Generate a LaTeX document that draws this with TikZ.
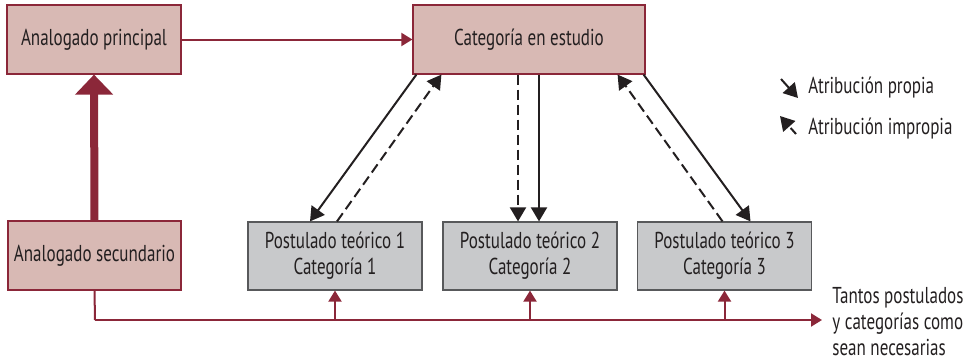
\documentclass[tikz,border=0pt]{standalone}
\usepackage{fontspec}
\setmainfont[FakeStretch=0.74]{PT Sans}
\usepackage{xcolor}
\usepackage{tikz}
\usetikzlibrary{arrows.meta}
\definecolor{analog_fill}{HTML}{D8B9B4}
\definecolor{analog_red}{HTML}{8B2739}
\definecolor{post_fill}{HTML}{C8C9CB}
\definecolor{post_edge}{HTML}{58595B}
\definecolor{text_dark}{HTML}{231F20}

\begin{document}
\begin{tikzpicture}[
            x=0.5pt,
            y=-0.5pt,
            line join=miter,
            font=\fontsize{11.5}{13}\selectfont,
            text=text_dark,
            analogbox/.style={draw=analog_red, line width=0.6pt, fill=analog_fill, minimum height=34.5pt, inner sep=0pt},
            postbox/.style={draw=post_edge, line width=0.6pt, fill=post_fill, minimum width=87pt, minimum height=34pt, align=center, inner sep=0pt},
            redarrow/.style={analog_red, line width=1pt, -{Triangle[length=5.5pt, width=6.5pt]}},
            bigarrow/.style={analog_red, line width=4pt, -{Triangle[length=10pt, width=18.5pt]}},
            propia/.style={text_dark, line width=1pt, -{Triangle[length=7pt, width=8pt]}},
            impropia/.style={text_dark, line width=1pt, dash pattern=on 5pt off 2.5pt, -{Triangle[length=7pt, width=8pt]}}
        ]
            \useasboundingbox (0,0) rectangle (970,364);

            % Draw analogados and category
            \node[analogbox, minimum width=87pt] (principal) at (94,39.5) {Analogado principal};
            \node[analogbox, minimum width=116pt] (categoria) at (529,39.5) {Categoría en estudio};
            \node[analogbox, minimum width=86.5pt] (secundario) at (94.5,255.5) {Analogado secundario};

            % Draw postulados
            \node[postbox] (post1) at (335,256) {Postulado teórico 1\\Categoría 1};
            \node[postbox] (post2) at (530,256) {Postulado teórico 2\\Categoría 2};
            \node[postbox] (post3) at (724.5,256) {Postulado teórico 3\\Categoría 3};

            % Red connectors
            \draw[bigarrow] (secundario.north) -- (principal.south);
            \draw[redarrow] (principal.east) -- (categoria.west);
            \coordinate (corner) at (95,320);
            \coordinate (fin) at (822,320);
            \draw[analog_red, line width=1pt] (secundario.south) -- (corner);
            \draw[redarrow] (corner) -- (fin);
            \foreach \p in {post1,post2,post3}
                \draw[redarrow] (\p.south |- corner) -- (\p.south);

            % Attribution arrows between category and postulados
            \draw[propia] ([xshift=2pt]categoria.south west) -- ([xshift=-12.5pt]post1.north);
            \draw[impropia] ([xshift=1pt]post1.north) -- ([xshift=14.5pt]categoria.south west);
            \draw[impropia] ([xshift=-5.5pt]categoria.south) -- ([xshift=-5.5pt]categoria.south |- post2.north);
            \draw[propia] ([xshift=5pt]categoria.south) -- ([xshift=5pt]categoria.south |- post2.north);
            \draw[impropia] ([xshift=-1pt]post3.north) -- ([xshift=-14pt]categoria.south east);
            \draw[propia] ([xshift=-1pt]categoria.south east) -- ([xshift=13pt]post3.north);

            % Legend (placed at the top-right)
            \coordinate (legA) at (781,79);
            \coordinate (legB) at (798,98);
            \coordinate (legC) at (796,134);
            \coordinate (legD) at (780,116);
            \draw[propia] (legA) -- (legB);
            \draw[impropia, dash pattern=on 4pt off 2pt] (legC) -- (legD);
            \node[anchor=west, inner sep=0pt] (legprop) at (808,88) {Atribución propia};
            \node[anchor=west, inner sep=0pt] (legimprop) at (808,129) {Atribución impropia};

            % Note on the right
            \node[anchor=west, align=left, inner sep=0pt] (nota) at (832,322) {Tantos postulados\\y categorías como\\sean necesarias};
        \end{tikzpicture}
\end{document}
